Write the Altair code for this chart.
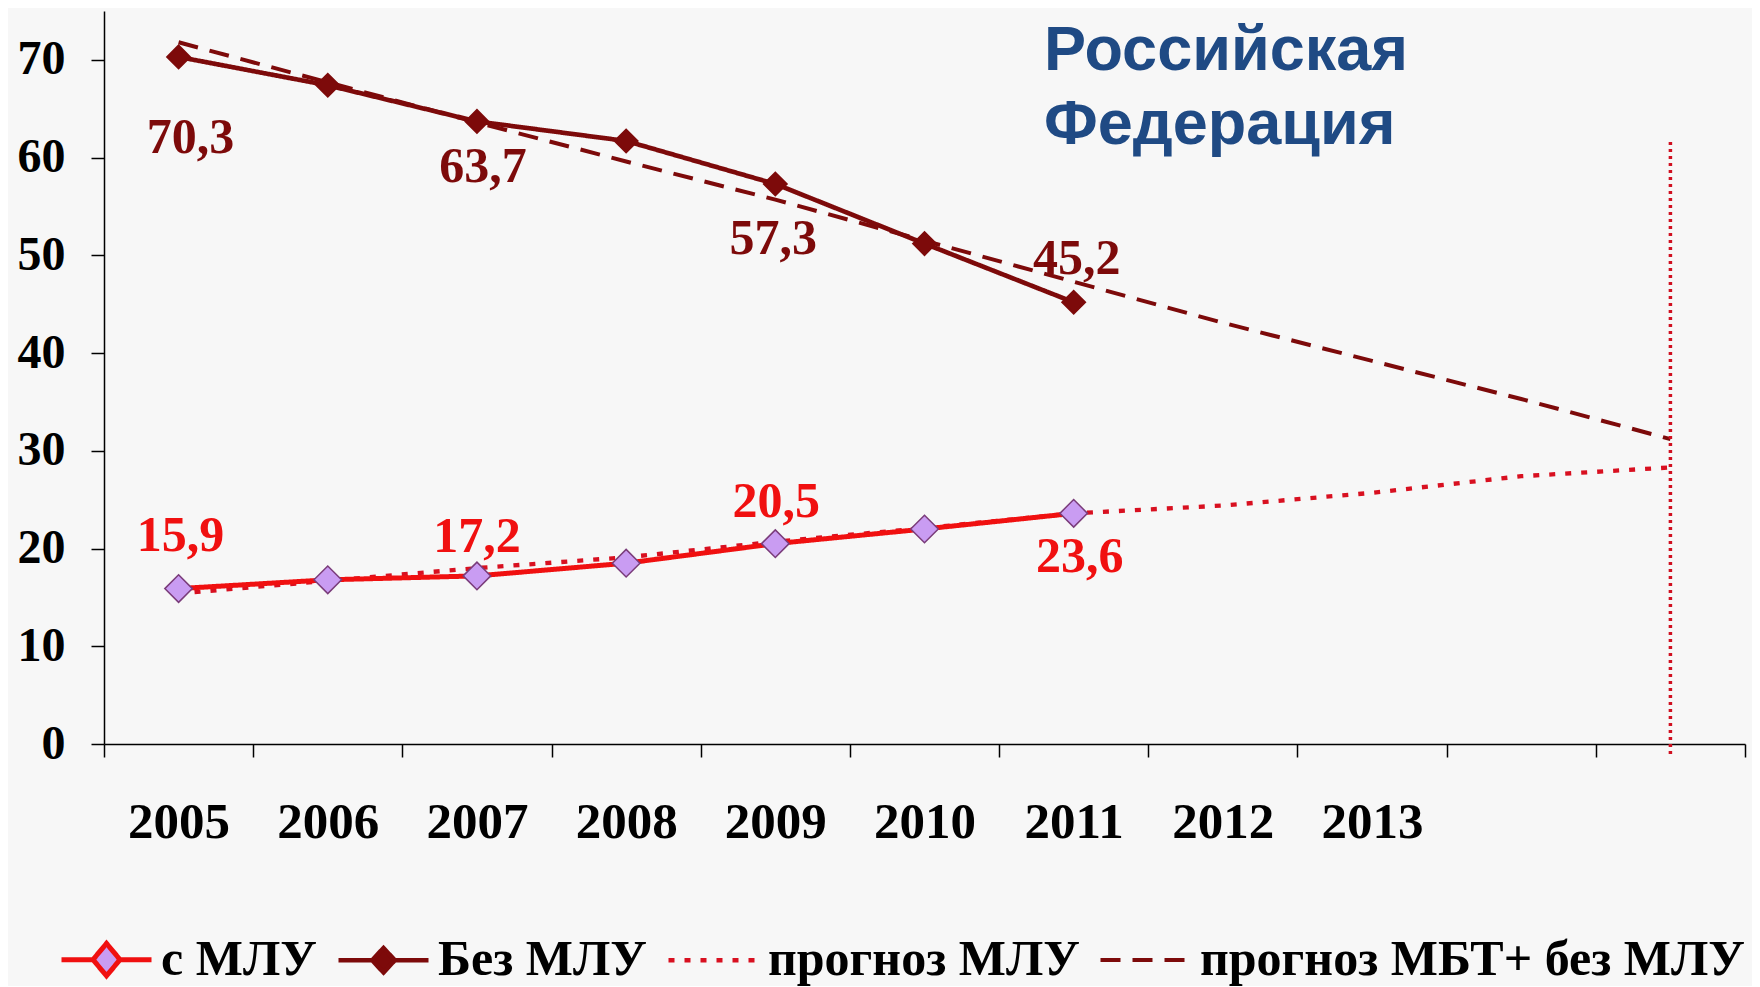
import altair as alt
import pandas as pd

# ---- data ----
years = ["2005", "2006", "2007", "2008", "2009", "2010", "2011", "2012", "2013", "2014", "2015"]
hidden_years = ["2014", "2015"]

mdr = [15.9, 16.8, 17.2, 18.5, 20.5, 22.0, 23.6]            # с МЛУ 2005-2011
no_mdr = [70.3, 67.4, 63.7, 61.7, 57.3, 51.2, 45.2]          # Без МЛУ 2005-2011
fc_mdr = [15.4, 16.7, 18.0, 19.1, 20.7, 22.1, 23.6, 24.4, 25.7, 27.4, 28.3]   # прогноз МЛУ
fc_no_mdr = [71.8, 67.7, 63.6, 59.6, 55.7, 51.5, 47.3, 43.1, 39.2, 35.3, 31.2]  # прогноз МБТ+ без МЛУ

series_names = ["с МЛУ", "Без МЛУ", "прогноз МЛУ", "прогноз МБТ+ без МЛУ"]
series_colors = ["#f01010", "#7d0a0a", "#d81020", "#7d0a0a"]
series_fills = ["#c99cf2", "#7d0a0a", "transparent", "transparent"]
series_dash = [[1, 0], [1, 0], [6, 10], [20, 12]]
series_width = [5, 4, 3, 3]

label_years_mdr = ["2005", "2007", "2009", "2011"]
label_text_mdr = ["15,9", "17,2", "20,5", "23,6"]
label_years_no = ["2005", "2007", "2009", "2011"]
label_text_no = ["70,3", "63,7", "57,3", "45,2"]

marker_year = "2015"
marker_top = 61.6

title_lines = ["Российская", "Федерация"]

# ---- tables ----
rows = []
for y, v in zip(years, mdr):
    rows.append({"year": y, "value": v, "series": series_names[0]})
for y, v in zip(years, no_mdr):
    rows.append({"year": y, "value": v, "series": series_names[1]})
for y, v in zip(years, fc_mdr):
    rows.append({"year": y, "value": v, "series": series_names[2]})
for y, v in zip(years, fc_no_mdr):
    rows.append({"year": y, "value": v, "series": series_names[3]})
df = pd.DataFrame(rows)

val_mdr = dict(zip(years, mdr))
val_no = dict(zip(years, no_mdr))
lab_rows = []
dy_mdr = {"2005": -53, "2007": -39, "2009": -42, "2011": 44}
dx_mdr = {"2005": 2, "2007": 0, "2009": 1, "2011": 6}
dy_no = {"2005": 81, "2007": 46, "2009": 55, "2011": -43}
dx_no = {"2005": 12, "2007": 6, "2009": -2, "2011": 3}
for y, t in zip(label_years_mdr, label_text_mdr):
    lab_rows.append({"year": y, "value": val_mdr[y], "text": t, "grp": "mdr"})
for y, t in zip(label_years_no, label_text_no):
    lab_rows.append({"year": y, "value": val_no[y], "text": t, "grp": "no"})
labels_df = pd.DataFrame(lab_rows)

marker_df = pd.DataFrame({"year": [marker_year], "value": [marker_top]})

W, H = 1641, 733

x_enc = alt.X(
    "year:O",
    bandPosition=0.5,
    scale=alt.Scale(type="band", domain=years, paddingInner=0, paddingOuter=0),
    axis=alt.Axis(
        title=None,
        tickBand="extent",
        labelExpr="indexof(['2014','2015'], datum.value) >= 0 ? '' : datum.label",
        labelAngle=0,
        labelFont="Liberation Serif",
        labelFontWeight="bold",
        labelFontSize=51,
        labelColor="#000000",
        labelPadding=40,
        tickSize=13,
        tickColor="#000000",
        tickWidth=1.5,
        domainColor="#000000",
        domainWidth=1.5,
        grid=False,
    ),
)
y_enc = alt.Y(
    "value:Q",
    scale=alt.Scale(domain=[0, 75], nice=False, zero=True),
    axis=alt.Axis(
        title=None,
        values=[0, 10, 20, 30, 40, 50, 60, 70],
        labelFont="Liberation Serif",
        labelFontWeight="bold",
        labelFontSize=48,
        labelColor="#000000",
        labelPadding=26,
        tickSize=13,
        tickColor="#000000",
        tickWidth=1.5,
        domainColor="#000000",
        domainWidth=1.5,
        grid=False,
    ),
)

diamond_line = "M-1,0L-0.3,0M0.3,0L1,0M0,-0.36L0.3,0L0,0.36L-0.3,0Z"
diamond_line_small = "M-1,0L-0.25,0M0.25,0L1,0M0,-0.27L0.25,0L0,0.27L-0.25,0Z"
series_shapes = [diamond_line, diamond_line_small, "stroke", "stroke"]

legend = alt.Legend(
    title=None,
    orient="none",
    legendX=-45,
    legendY=901,
    direction="horizontal",
    symbolType="stroke",
    symbolSize=8100,
    symbolOpacity=1,
    labelFont="Liberation Serif",
    labelFontWeight="bold",
    labelFontSize=50,
    labelColor="#000000",
    labelLimit=0,
    labelOffset=7,
    columnPadding=12,
    padding=0,
    columns=4,
    gridAlign="each",
)

color_enc = alt.Color("series:N", scale=alt.Scale(domain=series_names, range=series_colors), legend=legend)
dash_enc = alt.StrokeDash("series:N", scale=alt.Scale(domain=series_names, range=series_dash), legend=legend)
width_enc = alt.StrokeWidth("series:N", scale=alt.Scale(domain=series_names, range=series_width), legend=legend)
shape_enc = alt.Shape("series:N", scale=alt.Scale(domain=series_names, range=series_shapes), legend=legend)
fill_enc = alt.Fill("series:N", scale=alt.Scale(domain=series_names, range=series_fills), legend=legend)

base = alt.Chart(df)

fc_lines = base.transform_filter(
    alt.FieldOneOfPredicate(field="series", oneOf=series_names[2:])
).mark_line().encode(x=x_enc, y=y_enc, color=color_enc, strokeDash=dash_enc, strokeWidth=width_enc, detail="series:N")

act_lines = base.transform_filter(
    alt.FieldOneOfPredicate(field="series", oneOf=series_names[:2])
).mark_line().encode(x=x_enc, y=y_enc, color=color_enc, strokeDash=dash_enc, strokeWidth=width_enc, detail="series:N")

# tiny points that only feed the legend its diamond symbols
legend_feed = base.transform_filter(
    alt.FieldOneOfPredicate(field="series", oneOf=series_names[:2])
).mark_point(size=0.01, opacity=1).encode(x=x_enc, y=y_enc, shape=shape_enc, fill=fill_enc, color=color_enc)

pts_mdr = base.transform_filter(alt.datum.series == series_names[0]).mark_point(
    shape="diamond", filled=True, fill="#c99cf2", stroke="#7a3c7a", strokeWidth=1.5, size=760, opacity=1
).encode(x=x_enc, y=y_enc)

pts_no = base.transform_filter(alt.datum.series == series_names[1]).mark_point(
    shape="diamond", filled=True, fill="#7d0a0a", stroke="#7d0a0a", size=520, opacity=1
).encode(x=x_enc, y=y_enc)

marker = alt.Chart(marker_df).mark_rule(
    color="#d01020", strokeWidth=3.5, strokeDash=[3, 4]
).encode(x=x_enc, y="value:Q", y2=alt.value(H + 11))

text_layers = []
for y, t in zip(label_years_mdr, label_text_mdr):
    text_layers.append(
        alt.Chart(labels_df).transform_filter((alt.datum.grp == "mdr") & (alt.datum.year == y)).mark_text(
            font="Liberation Serif", fontWeight="bold", fontSize=50, color="#f01010",
            dy=dy_mdr[y], dx=dx_mdr[y], baseline="middle", align="center"
        ).encode(x=x_enc, y="value:Q", text="text:N")
    )
for y, t in zip(label_years_no, label_text_no):
    text_layers.append(
        alt.Chart(labels_df).transform_filter((alt.datum.grp == "no") & (alt.datum.year == y)).mark_text(
            font="Liberation Serif", fontWeight="bold", fontSize=50, color="#7d0a0a",
            dy=dy_no[y], dx=dx_no[y], baseline="middle", align="center"
        ).encode(x=x_enc, y="value:Q", text="text:N")
    )

chart = alt.layer(
    fc_lines, act_lines, legend_feed, pts_no, pts_mdr, marker, *text_layers
).properties(
    width=W,
    height=H,
    title=alt.TitleParams(
        text=title_lines,
        font="Liberation Sans",
        fontWeight="bold",
        fontSize=63,
        color="#1f4a84",
        anchor="start",
        frame="group",
        orient="top",
        baseline="top",
        offset=0,
        dx=940,
        dy=146,
        lineHeight=74,
    ),
    autosize=alt.AutoSizeParams(type="none"),
    padding={"left": 96, "top": 3, "right": 7, "bottom": 242},
    background="#f7f7f7",
).configure_view(stroke=None)

chart.save("out.html", embed_options={"renderer": "svg", "actions": False})
